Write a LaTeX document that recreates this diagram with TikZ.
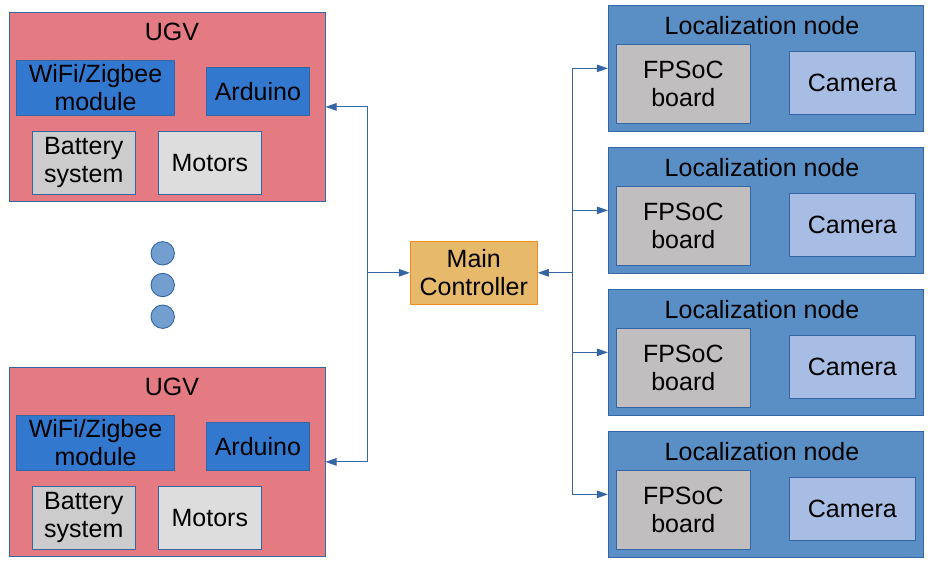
\documentclass[tikz,border=0pt]{standalone}
\usepackage{fontspec}
\setmainfont{Liberation Sans}
\usetikzlibrary{arrows.meta}
\definecolor{edge}{RGB}{52,101,164}
\definecolor{ugvfill}{RGB}{229,123,130}
\definecolor{bluebox}{RGB}{50,120,207}
\definecolor{battfill}{RGB}{204,204,204}
\definecolor{motfill}{RGB}{221,221,221}
\definecolor{mcfill}{RGB}{231,185,106}
\definecolor{mcedge}{RGB}{243,140,30}
\definecolor{locfill}{RGB}{90,143,197}
\definecolor{fpfill}{RGB}{192,190,191}
\definecolor{camfill}{RGB}{168,189,227}
\definecolor{dotfill}{RGB}{114,159,207}
\begin{document}
\begin{tikzpicture}[x=1pt,y=-1pt,
  txt/.style={font=\fontsize{25}{28}\selectfont},
  box/.style={draw=edge, line width=0.9pt, inner sep=0pt, align=center, rectangle, txt},
  title/.style={anchor=base, inner sep=0pt, txt},
  dot/.style={circle, draw=edge, line width=0.9pt, fill=dotfill, minimum size=23.4pt, inner sep=0pt},
  arr/.style={draw=edge, line width=1pt, -{Triangle[length=11pt,width=7.5pt]}},
]
\useasboundingbox (0,0) rectangle (933,565);

% UGV blocks
\foreach \k/\dy in {1/0,2/355}{
  \node[box, fill=ugvfill, minimum width=315.7pt, minimum height=188.3pt] (ugv\k) at (167.2,106.9+\dy) {};
  \node[title] (ugvt\k) at (172,40.7+\dy) {UGV};
  \node[box, fill=bluebox, minimum width=158.4pt, minimum height=55.4pt] (wifi\k) at (95.5,88+\dy) {WiFi/Zigbee\\module};
  \node[box, fill=bluebox, minimum width=103.7pt, minimum height=48.4pt] (ard\k) at (257.9,91.5+\dy) {Arduino};
  \node[box, fill=battfill, minimum width=103pt, minimum height=63pt] (bat\k) at (83.8,162.8+\dy) {Battery\\system};
  \node[box, fill=motfill, minimum width=103pt, minimum height=63pt] (mot\k) at (209.8,162.8+\dy) {Motors};
}

% dots
\node[dot] (d1) at (162.7,253.3) {};
\node[dot] (d2) at (162.7,285) {};
\node[dot] (d3) at (162.7,316.7) {};

% main controller
\node[box, draw=mcedge, fill=mcfill, minimum width=127pt, minimum height=63pt] (mc) at (473.8,272.8) {Main\\Controller};

% localization nodes
\foreach \k/\dy in {1/0,2/142,3/284,4/426}{
  \node[box, fill=locfill, minimum width=315pt, minimum height=125.3pt] (loc\k) at (765.8,68.35+\dy) {};
  \node[title] (loct\k) at (762,34+\dy) {Localization node};
  \node[box, fill=fpfill, minimum width=134pt, minimum height=79pt] (fp\k) at (683.3,83.8+\dy) {FPSoC\\board};
  \node[box, fill=camfill, minimum width=126pt, minimum height=62.7pt] (cam\k) at (852.3,82.65+\dy) {Camera};
}

% connectors
\coordinate (jl) at (367.3,272.8);
\coordinate (jr) at (572.5,272.8);
\draw[arr] (jl) -- (mc.west);
\draw[arr] (jl) |- (ugv1.east);
\draw[arr] (jl) |- (ugv2.east);
\draw[arr] (jr) -- (mc.east);
\foreach \k in {1,2,3,4}{
  \draw[arr] (jr) |- (loc\k.west);
}
\end{tikzpicture}
\end{document}
